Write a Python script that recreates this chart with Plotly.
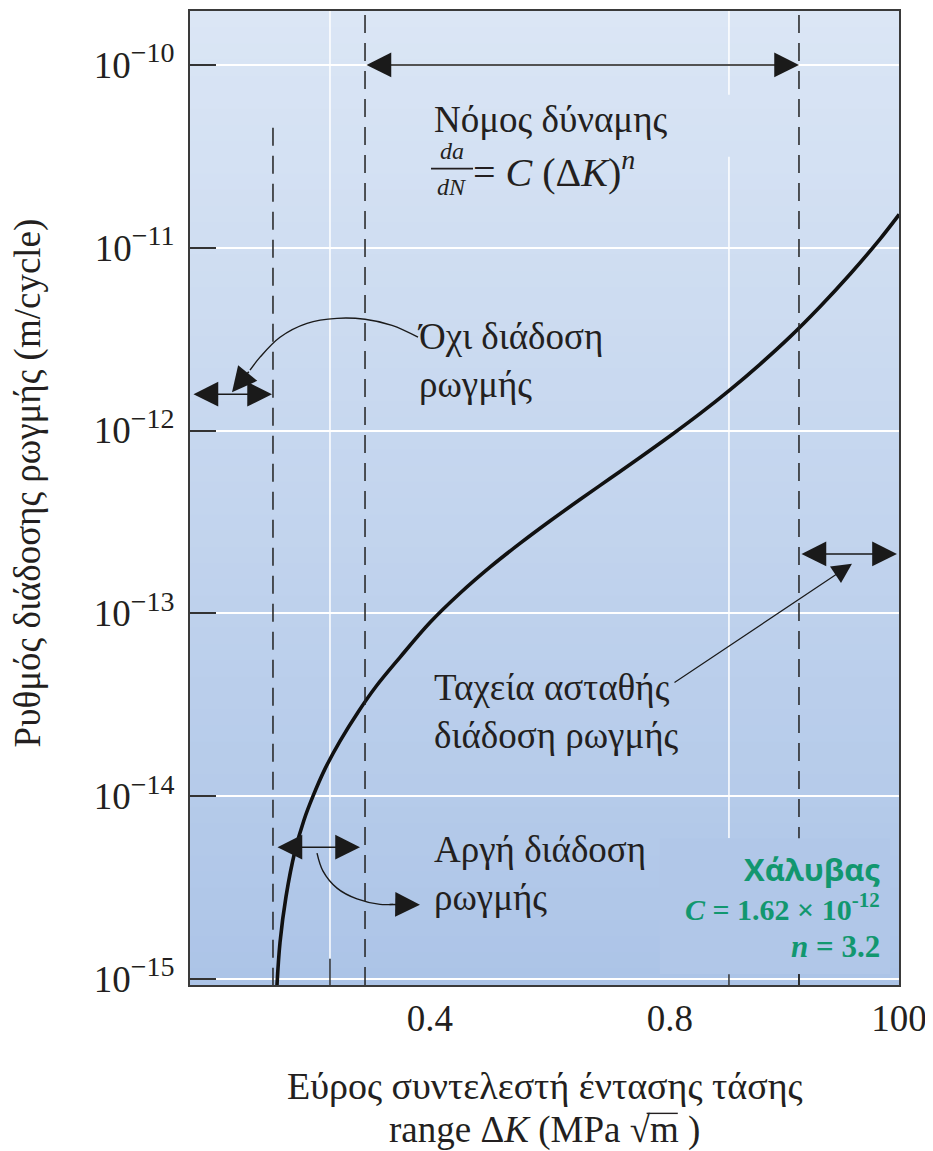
import plotly.graph_objects as go

# ---------------- data ----------------
# crack-growth curve: stress-intensity range (schematic units) vs growth rate
delta_k = [0.145, 0.150, 0.160, 0.175, 0.190, 0.205, 0.225, 0.25, 0.28, 0.31,
           0.35, 0.40, 0.45, 0.50, 0.55, 0.60, 0.65, 0.70, 0.75, 0.80,
           0.85, 0.90, 0.95, 1.00, 1.05, 1.10, 1.15, 1.182]
growth_rate = [9.27e-16, 1.58e-15, 2.82e-15, 5.01e-15, 7.41e-15, 1.00e-14, 1.41e-14,
               2.00e-14, 2.88e-14, 3.98e-14, 5.75e-14, 8.91e-14, 1.288e-13, 1.789e-13,
               2.413e-13, 3.199e-13, 4.193e-13, 5.464e-13, 7.119e-13, 9.333e-13, 1.237e-12,
               1.669e-12, 2.304e-12, 3.254e-12, 4.758e-12, 7.161e-12, 1.115e-11, 1.521e-11]

y_tickvals = [1e-10, 1e-11, 1e-12, 1e-13, 1e-14, 1e-15]
y_exponents = ["−10", "−11", "−12", "−13", "−14", "−15"]
x_tickvals = [0.4, 0.8, 1.1817]
x_ticktext = ["0.4", "0.8", "100"]

# regime boundaries (dashed lines): threshold, start of power law, end of power law
regime_bounds = [0.1383, 0.2917, 1.015]
# white vertical guide lines / minor tick marks
guide_x = [0.2333, 0.8983]

# curved pointer arrows (ΔK, rate)
none_arrow_x = [0.38, 0.3367, 0.2917, 0.245, 0.195, 0.15, 0.1167, 0.10]
none_arrow_y = [3.24e-12, 3.76e-12, 4.06e-12, 4.11e-12, 3.86e-12, 3.24e-12, 2.52e-12, 2.14e-12]
slow_arrow_x = [0.2117, 0.2217, 0.245, 0.2783, 0.3167, 0.3383]
slow_arrow_y = [4.88e-15, 3.89e-15, 3.14e-15, 2.74e-15, 2.56e-15, 2.56e-15]

# ---------------- styling ----------------
SERIF = "Liberation Serif, Times New Roman, serif"
TXT = "#231f20"
GREEN = "#12976f"
X_RANGE = [0, 1.1817]
Y_RANGE = [-15.033, -9.705]

y_ticktext = ["10<sup><span style='font-size:28px'>%s</span></sup>" % e for e in y_exponents]

fig = go.Figure()

fig.add_trace(go.Scatter(x=delta_k, y=growth_rate, mode="lines",
                         line=dict(color="#111111", width=3.6, shape="spline", smoothing=1.0),
                         hoverinfo="skip", showlegend=False))
fig.add_trace(go.Scatter(x=none_arrow_x, y=none_arrow_y, mode="lines",
                         line=dict(color="#1a1a1a", width=1.4, shape="spline"),
                         hoverinfo="skip", showlegend=False))
fig.add_trace(go.Scatter(x=slow_arrow_x, y=slow_arrow_y, mode="lines",
                         line=dict(color="#1a1a1a", width=1.4, shape="spline"),
                         hoverinfo="skip", showlegend=False))

shapes = []
# gradient background (slightly overlapping bands to avoid seams)
top = (219, 230, 245)
bot = (172, 196, 231)
nb = 60
for i in range(nb):
    t = (i + 0.5) / nb
    c = tuple(round(bot[k] + (top[k] - bot[k]) * t) for k in range(3))
    shapes.append(dict(type="rect", xref="paper", yref="paper", x0=0, x1=1,
                       y0=i / nb, y1=min(1, (i + 1) / nb + 0.004), layer="below",
                       fillcolor="rgb(%d,%d,%d)" % c, line=dict(width=0)))
# white vertical guide lines
shapes.append(dict(type="line", xref="x", yref="paper", x0=guide_x[0], x1=guide_x[0],
                   y0=0.027, y1=1, layer="below", line=dict(color="white", width=1.5)))
for (a, b) in [(0.914, 1.0), (0.1506, 0.8504)]:
    shapes.append(dict(type="line", xref="x", yref="paper", x0=guide_x[1], x1=guide_x[1],
                       y0=a, y1=b, layer="below", line=dict(color="white", width=1.5)))
# bottom tick marks
shapes.append(dict(type="line", xref="x", yref="paper", x0=guide_x[0], x1=guide_x[0],
                   y0=0, y1=0.027, line=dict(color="#333", width=1.5)))
for gx in [guide_x[1], regime_bounds[2]]:
    shapes.append(dict(type="line", xref="x", yref="paper", x0=gx, x1=gx,
                       y0=0, y1=0.011, line=dict(color="#333", width=1.5)))
# dashed regime lines
shapes.append(dict(type="line", xref="x", yref="y", x0=regime_bounds[0], x1=regime_bounds[0],
                   y0=4.53e-11, y1=9.27e-16, line=dict(color="#222", width=1.5, dash="18px,10px")))
for rb in regime_bounds[1:]:
    shapes.append(dict(type="line", xref="x", yref="paper", x0=rb, x1=rb, y0=0, y1=1,
                       line=dict(color="#222", width=1.5, dash="18px,10px")))
# panel behind the material constants (hides the guide lines there)
shapes.append(dict(type="rect", xref="x", yref="paper", x0=0.783, x1=1.1667,
                   y0=0.0113, y1=0.1506, fillcolor="rgb(177,199,232)", line=dict(width=0)))
# fraction bar of da/dN
shapes.append(dict(type="line", xref="x", yref="y", x0=0.4017, x1=0.4717,
                   y0=10 ** -10.567, y1=10 ** -10.567, line=dict(color=TXT, width=1.6)))
# vinculum over the m of √m in the axis title
shapes.append(dict(type="line", xref="paper", yref="paper", x0=0.644, x1=0.688,
                   y0=-0.1318, y1=-0.1318, line=dict(color=TXT, width=1.4)))


def arrow(x, y, ax, ay, both=False, width=1.5, size=3.3):
    return dict(x=x, y=y, ax=ax, ay=ay, xref="x", yref="y", axref="x", ayref="y",
                text="", showarrow=True, arrowhead=2, arrowsize=size, arrowwidth=width,
                arrowcolor="#1a1a1a", arrowside="end+start" if both else "end",
                standoff=0, startstandoff=0)


def label(x, y, text, size=37, anchor="left", color=TXT, family=SERIF, ref="x"):
    return dict(x=x, y=y, xref=ref, yref="y", text=text, showarrow=False,
                xanchor=anchor, yanchor="middle", align=anchor,
                font=dict(family=family, size=size, color=color))


ann = [
    # double arrows marking regimes
    arrow(regime_bounds[2], -10.0, regime_bounds[1], -10.0, both=True),
    arrow(0.1367, -11.801, 0.0033, -11.801, both=True),
    arrow(0.2833, -14.279, 0.1433, -14.279, both=True),
    arrow(1.1783, -12.675, 1.0167, -12.675, both=True),
    # heads of curved pointers
    arrow(0.07, -11.79, 0.10, -11.67),
    arrow(0.3833, -14.594, 0.33, -14.592),
    # straight pointer for unstable growth
    arrow(1.1033, -12.729, 0.805, -13.384, width=1.2),
    # texts
    label(0.4033, -10.30, "Νόμος δύναμης"),
    label(0.4367, -10.47, "<i>da</i>", size=24, anchor="center"),
    label(0.4367, -10.665, "<i>dN</i>", size=24, anchor="center"),
    label(0.468, -10.57, "= <i>C</i> (Δ<i>K</i>)<sup><i>n</i></sup>", size=40),
    label(0.375, -11.616, "Όχι διάδοση<br>ρωγμής"),
    label(0.4033, -13.537, "Ταχεία ασταθής<br>διάδοση ρωγμής"),
    label(0.4033, -14.421, "Αργή διάδοση<br>ρωγμής"),
    label(1.1533, -14.40, "<b>Χάλυβας</b>", size=31, anchor="right", color=GREEN,
          family="Open Sans, Noto Sans, sans-serif"),
    label(1.1533, -14.607, "<b><i>C</i> = 1.62 × 10<sup>-12</sup></b>", size=30, anchor="right", color=GREEN),
    label(1.1533, -14.82, "<b><i>n</i> = 3.2</b>", size=31, anchor="right", color=GREEN),
    # axis titles
    dict(x=-0.2285, y=0.516, xref="paper", yref="paper", text="Ρυθμός διάδοσης ρωγμής (m/cycle)",
         textangle=-90, showarrow=False, xanchor="center", yanchor="middle",
         font=dict(family=SERIF, size=37, color=TXT)),
    dict(x=0.5, y=-0.1035, xref="paper", yref="paper", text="Εύρος συντελεστή έντασης τάσης",
         showarrow=False, xanchor="center", yanchor="middle",
         font=dict(family=SERIF, size=38, color=TXT)),
    dict(x=0.5, y=-0.1490, xref="paper", yref="paper", text="range Δ<i>K</i> (MPa √m )",
         showarrow=False, xanchor="center", yanchor="middle",
         font=dict(family=SERIF, size=37, color=TXT)),
]

# the page adds an 8px body margin, so the figure is 8px smaller than the window
fig.update_layout(
    width=925, height=1143,
    margin=dict(l=182, r=34, t=1, b=166),
    paper_bgcolor="white", plot_bgcolor="rgba(0,0,0,0)",
    shapes=shapes, annotations=ann, showlegend=False,
    xaxis=dict(range=X_RANGE, tickvals=x_tickvals, ticktext=x_ticktext, ticks="",
               showgrid=False, zeroline=False, showline=True, mirror=True,
               linecolor="#3a3a3a", linewidth=2,
               tickfont=dict(family=SERIF, size=37, color=TXT)),
    yaxis=dict(type="log", range=Y_RANGE, tickvals=y_tickvals, ticktext=y_ticktext,
               ticks="inside", ticklen=26, tickwidth=1.5, tickcolor="#333",
               ticklabelstandoff=6,
               showgrid=True, gridcolor="white", gridwidth=1.5, zeroline=False,
               showline=True, mirror=True, linecolor="#3a3a3a", linewidth=2,
               tickfont=dict(family=SERIF, size=37, color=TXT)),
)

fig.write_html("out.html")
